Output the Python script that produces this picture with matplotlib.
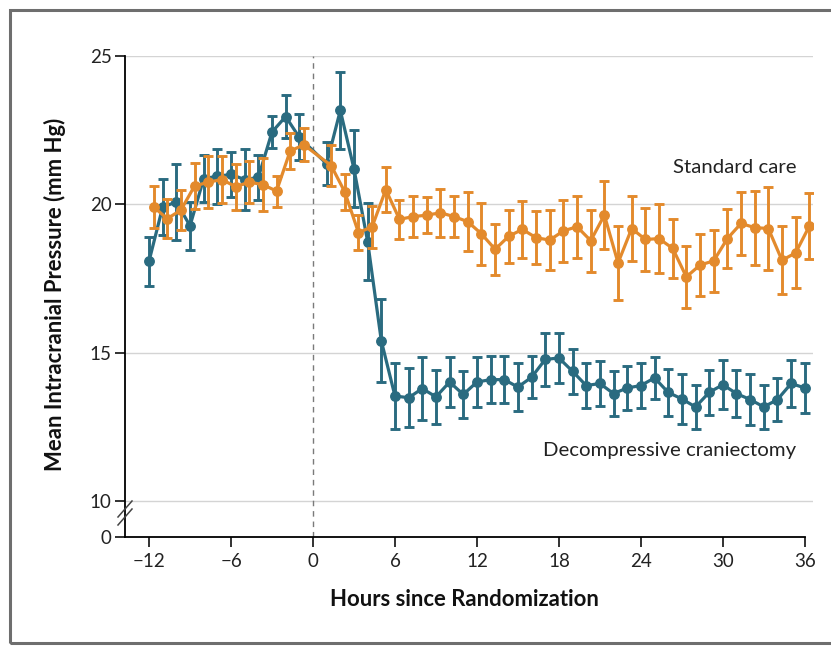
import matplotlib
matplotlib.use("Agg")
import matplotlib.pyplot as plt
from matplotlib.patches import Rectangle
from matplotlib.lines import Line2D

plt.rcParams['font.family'] = ['Lato', 'DejaVu Sans']

# ---- data ----
hours = [-12, -11, -10, -9, -8, -7, -6, -5, -4, -3, -2, -1,
         1, 2, 3, 4, 5, 6, 7, 8, 9, 10, 11, 12,
         13, 14, 15, 16, 17, 18, 19, 20, 21, 22, 23, 24,
         25, 26, 27, 28, 29, 30, 31, 32, 33, 34, 35, 36]

craniectomy_mean = [18.09, 19.92, 20.08, 19.28, 20.87, 20.95, 21.01, 20.84, 20.91, 22.44, 22.96, 22.26,
                    21.37, 23.17, 21.20, 18.75, 15.41, 13.55, 13.49, 13.80, 13.52, 14.02, 13.60, 14.02,
                    14.10, 14.10, 13.85, 14.18, 14.78, 14.83, 14.38, 13.90, 13.97, 13.63, 13.82, 13.90,
                    14.16, 13.67, 13.45, 13.18, 13.67, 13.93, 13.63, 13.43, 13.18, 13.43, 13.97, 13.82]
craniectomy_err = [0.82, 0.95, 1.27, 0.80, 0.78, 0.92, 0.77, 1.03, 0.76, 0.55, 0.73, 0.77,
                   0.72, 1.30, 1.30, 1.30, 1.40, 1.10, 1.00, 1.05, 0.90, 0.85, 0.80, 0.84,
                   0.78, 0.80, 0.82, 0.70, 0.90, 0.85, 0.75, 0.77, 0.75, 0.75, 0.75, 0.75,
                   0.70, 0.80, 0.83, 0.73, 0.77, 0.83, 0.80, 0.87, 0.75, 0.73, 0.80, 0.83]

standard_mean = [19.92, 19.52, 19.81, 20.62, 20.75, 20.84, 20.60, 20.75, 20.67, 20.45, 21.80, 22.01,
                 21.31, 20.42, 19.05, 19.25, 20.50, 19.50, 19.59, 19.64, 19.72, 19.59, 19.42, 19.01,
                 18.49, 18.93, 19.16, 18.88, 18.80, 19.11, 19.25, 18.78, 19.64, 18.03, 19.19, 18.82,
                 18.85, 18.52, 17.56, 17.96, 18.10, 18.85, 19.36, 19.22, 19.19, 18.12, 18.37, 19.27]
standard_err = [0.70, 0.65, 0.68, 0.77, 0.87, 0.80, 0.77, 0.70, 0.90, 0.52, 0.60, 0.55,
                0.70, 0.60, 0.60, 0.70, 0.75, 0.65, 0.70, 0.60, 0.80, 0.70, 1.00, 1.05,
                0.85, 0.90, 0.95, 0.90, 1.00, 1.05, 1.05, 1.05, 1.15, 1.25, 1.10, 1.05,
                1.15, 1.00, 1.05, 1.05, 1.05, 1.00, 1.05, 1.25, 1.40, 1.15, 1.20, 1.10]

x_ticks = [-12, -6, 0, 6, 12, 18, 24, 30, 36]
x_labels = ['\u221212', '\u22126', '0', '6', '12', '18', '24', '30', '36']
y_ticks = [8.8, 10, 15, 20, 25]
y_labels = ['0', '10', '15', '20', '25']

label_standard = 'Standard care'
label_crani = 'Decompressive craniectomy'
xlabel = 'Hours since Randomization'
ylabel = 'Mean Intracranial Pressure (mm Hg)'

# ---- style ----
BLUE = '#2a6b80'
ORANGE = '#e38a2c'
orange_shift = 0.33

W, H = 831, 646
fig = plt.figure(figsize=(W / 100, H / 100), dpi=100)
ax_left, ax_right, ax_top, ax_bot = 125, 813, 56, 537
ax = fig.add_axes([ax_left / W, 1 - ax_bot / H, (ax_right - ax_left) / W, (ax_bot - ax_top) / H])

xmin, xmax = -13.76, 36.6
ymin, ymax = 8.8, 25
ax.set_xlim(xmin, xmax)
ax.set_ylim(ymin, ymax)

for g in [10, 15, 20, 25]:
    ax.axhline(g, color='#d4d4d4', lw=1.0, zorder=0)
ax.axvline(0, color='#7a7a7a', lw=1.0, dashes=(4, 3.5), zorder=1)

ax.errorbar(hours, craniectomy_mean, yerr=craniectomy_err, color=BLUE, lw=2.3,
            marker='o', ms=6.8, elinewidth=2.1, capsize=3.6, capthick=2.1, zorder=3)
ax.errorbar([h + orange_shift for h in hours], standard_mean, yerr=standard_err, color=ORANGE, lw=2.3,
            marker='o', ms=6.8, elinewidth=2.1, capsize=3.6, capthick=2.1, zorder=4)

for s in ['top', 'right']:
    ax.spines[s].set_visible(False)
ax.spines['left'].set_linewidth(1.3)
ax.spines['bottom'].set_linewidth(1.3)
ax.spines['bottom'].set_bounds(xmin, 36)

ax.set_xticks(x_ticks)
ax.set_xticklabels(x_labels)
ax.set_yticks(y_ticks)
ax.set_yticklabels(y_labels)
ax.tick_params(axis='both', direction='out', length=7.5, width=1.3, labelsize=13.5, colors='#222222')
ax.tick_params(axis='x', pad=4)
ax.tick_params(axis='y', pad=2)

# axis break marks
for dy in (-4, 4):
    y0 = (513 + dy)
    fig.add_artist(Line2D([(ax_left - 7) / W, (ax_left + 7) / W],
                          [1 - (y0 + 8) / H, 1 - (y0 - 8) / H],
                          color='#444444', lw=1.1))

ax.text(35.4, 21.25, label_standard, ha='right', va='center', fontsize=14.7, color='#222222')
ax.text(35.4, 11.7, label_crani, ha='right', va='center', fontsize=14.7, color='#222222')

fig.text(464 / W, 1 - 599 / H, xlabel, ha='center', va='center', fontsize=15.9, fontweight='bold', color='#111111')
fig.text(55 / W, 1 - 294 / H, ylabel, ha='center', va='center', rotation=90, fontsize=15.9,
         fontweight='bold', color='#111111')

# outer frame
fig.add_artist(Rectangle((10 / W, 1 - 643 / H), (W + 20) / W, (643 - 10) / H, fill=False,
                         edgecolor='#6e6e6e', lw=2.2, transform=fig.transFigure, clip_on=False))

fig.savefig('out.png', dpi=100)
